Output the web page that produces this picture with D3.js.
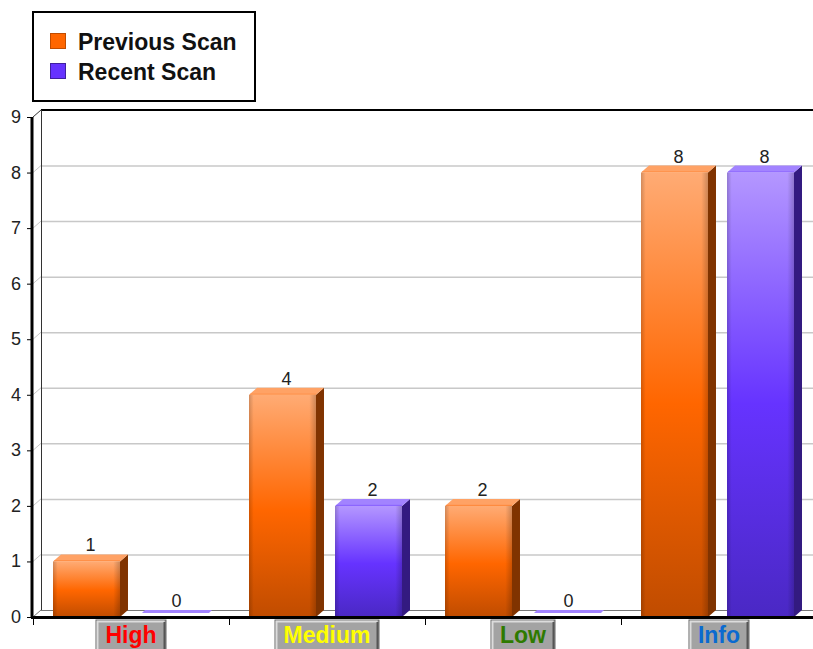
<!DOCTYPE html>
<html>
<head>
<meta charset="utf-8">
<script src="https://cdn.jsdelivr.net/npm/d3@7"></script>
<style>
  body { margin: 0; background: #fff; }
  svg { display: block; }
</style>
</head>
<body>
<div id="chart"></div>
<script>
var categories = ["High", "Medium", "Low", "Info"];
var categoryColors = ["#ff0000", "#ffff00", "#2e7a00", "#0a6ad0"];
var seriesNames = ["Previous Scan", "Recent Scan"];
var previousScan = [1, 4, 2, 8];
var recentScan = [0, 2, 0, 8];
var yTicks = [0, 1, 2, 3, 4, 5, 6, 7, 8, 9];

var width = 813, height = 649;
var depthX = 8, depthY = 7;
var baseY = 617;

var palette = {
    "Previous Scan": {light: "#ffab74", mid: "#ff6600", dark: "#c04c00", top: "#ffa265", side: "#803300", edge: "#c04c00"},
    "Recent Scan": {light: "#b497ff", mid: "#6633ff", dark: "#4a28c4", top: "#a283ff", side: "#331a80", edge: "#4020a0"}
};

var svg = d3.select("#chart").append("svg")
    .attr("width", width)
    .attr("height", height)
    .style("font-family", "'Liberation Sans', Arial, sans-serif");

var defs = svg.append("defs");

seriesNames.forEach(function (s, i) {
    var p = palette[s];
    var g = defs.append("linearGradient")
        .attr("id", "grad" + i)
        .attr("x1", 0).attr("y1", 0).attr("x2", 0).attr("y2", 1);
    g.append("stop").attr("offset", "0%").attr("stop-color", p.light);
    g.append("stop").attr("offset", "52%").attr("stop-color", p.mid);
    g.append("stop").attr("offset", "100%").attr("stop-color", p.dark);
});

// soft shading at the left/right edge of each front face
var edge = defs.append("linearGradient")
    .attr("id", "edgeShade")
    .attr("x1", 0).attr("y1", 0).attr("x2", 1).attr("y2", 0);
edge.append("stop").attr("offset", "0%").attr("stop-color", "#000").attr("stop-opacity", 0.18);
edge.append("stop").attr("offset", "7%").attr("stop-color", "#000").attr("stop-opacity", 0);
edge.append("stop").attr("offset", "90%").attr("stop-color", "#000").attr("stop-opacity", 0);
edge.append("stop").attr("offset", "100%").attr("stop-color", "#000").attr("stop-opacity", 0.2);

var y = d3.scaleLinear()
    .domain([0, 9])
    .range([baseY, 117]);

var x = d3.scaleBand()
    .domain(categories)
    .range([33, 817]);

var xs = d3.scaleBand()
    .domain(seriesNames)
    .range([20, 181])
    .paddingInner(0.128);

var plotLeft = 33, plotRight = width;

// gridlines on the back wall
var grid = svg.append("g");
grid.selectAll("line.grid")
    .data(yTicks.slice(1, -1))
    .enter().append("line")
    .attr("x1", plotLeft + depthX)
    .attr("x2", plotRight)
    .attr("y1", function (d) { return y(d) - depthY + 0.5; })
    .attr("y2", function (d) { return y(d) - depthY + 0.5; })
    .attr("stroke", "#c8c8c8")
    .attr("stroke-width", 1.5);
grid.selectAll("line.diag")
    .data(yTicks.slice(1, -1))
    .enter().append("line")
    .attr("x1", plotLeft)
    .attr("x2", plotLeft + depthX)
    .attr("y1", function (d) { return y(d); })
    .attr("y2", function (d) { return y(d) - depthY; })
    .attr("stroke", "#c8c8c8");

// back wall frame
svg.append("line")
    .attr("x1", plotLeft + depthX).attr("x2", plotRight)
    .attr("y1", y(9) - depthY).attr("y2", y(9) - depthY)
    .attr("stroke", "#000").attr("stroke-width", 2);
svg.append("line")
    .attr("x1", plotLeft + depthX + 0.5).attr("x2", plotLeft + depthX + 0.5)
    .attr("y1", y(9) - depthY).attr("y2", baseY - depthY)
    .attr("stroke", "#333").attr("stroke-width", 1);
svg.append("line")
    .attr("x1", plotLeft).attr("x2", plotLeft + depthX)
    .attr("y1", y(9)).attr("y2", y(9) - depthY)
    .attr("stroke", "#333");
// floor back edge
svg.append("line")
    .attr("x1", plotLeft + depthX).attr("x2", plotRight)
    .attr("y1", baseY - depthY + 0.5).attr("y2", baseY - depthY + 0.5)
    .attr("stroke", "#777");
svg.append("line")
    .attr("x1", plotLeft).attr("x2", plotLeft + depthX)
    .attr("y1", baseY).attr("y2", baseY - depthY)
    .attr("stroke", "#777");

// bars
var rows = [];
categories.forEach(function (c, i) {
    rows.push({cat: c, series: seriesNames[0], si: 0, value: previousScan[i]});
    rows.push({cat: c, series: seriesNames[1], si: 1, value: recentScan[i]});
});

var bw = xs.bandwidth();
var fw = bw - depthX;

var bars = svg.append("g").selectAll("g.bar")
    .data(rows)
    .enter().append("g")
    .attr("class", "bar");

bars.each(function (d) {
    var g = d3.select(this);
    var p = palette[d.series];
    var bx = x(d.cat) + xs(d.series);
    var by = y(d.value);
    if (d.value === 0) {
        g.append("polygon")
            .attr("points", [[bx + 3, baseY - 4], [bx + fw + 3, baseY - 4],
                [bx + fw + 6, baseY - 7], [bx + 6, baseY - 7]].join(" "))
            .attr("fill", p.top);
        return;
    }
    // side face
    g.append("polygon")
        .attr("points", [[bx + fw, by], [bx + fw + depthX, by - depthY],
            [bx + fw + depthX, baseY - depthY], [bx + fw, baseY]].join(" "))
        .attr("fill", p.side);
    // top face
    g.append("polygon")
        .attr("points", [[bx, by], [bx + depthX, by - depthY],
            [bx + fw + depthX, by - depthY], [bx + fw, by]].join(" "))
        .attr("fill", p.top);
    g.append("line")
        .attr("x1", bx + 1).attr("x2", bx + fw)
        .attr("y1", by - 0.5).attr("y2", by - 0.5)
        .attr("stroke", p.mid).attr("stroke-opacity", 0.5);
    // front face
    g.append("rect")
        .attr("x", bx)
        .attr("y", by)
        .attr("width", fw)
        .attr("height", baseY - by)
        .attr("fill", "url(#grad" + d.si + ")");
    g.append("rect")
        .attr("x", bx)
        .attr("y", by)
        .attr("width", fw)
        .attr("height", baseY - by)
        .attr("fill", "url(#edgeShade)");
});

// value labels
svg.append("g").selectAll("text")
    .data(rows)
    .enter().append("text")
    .attr("x", function (d) { return x(d.cat) + xs(d.series) + bw / 2; })
    .attr("y", function (d) { return y(d.value) - 10; })
    .attr("text-anchor", "middle")
    .attr("font-size", 18)
    .attr("fill", "#222")
    .text(function (d) { return d.value; });

// axes
var yAxis = svg.append("g");
yAxis.append("line")
    .attr("x1", plotLeft - 1).attr("x2", plotLeft - 1)
    .attr("y1", y(9)).attr("y2", baseY + 1)
    .attr("stroke", "#000").attr("stroke-width", 3);
yAxis.selectAll("line.tick")
    .data(yTicks)
    .enter().append("line")
    .attr("x1", plotLeft - 6).attr("x2", plotLeft)
    .attr("y1", function (d) { return y(d) + 0.5; })
    .attr("y2", function (d) { return y(d) + 0.5; })
    .attr("stroke", "#000");
yAxis.selectAll("text")
    .data(yTicks)
    .enter().append("text")
    .attr("x", 21)
    .attr("y", function (d) { return y(d) + 6; })
    .attr("text-anchor", "end")
    .attr("font-size", 18)
    .attr("fill", "#222")
    .text(function (d) { return d; });

var xAxis = svg.append("g");
xAxis.append("line")
    .attr("x1", plotLeft - 2).attr("x2", plotRight)
    .attr("y1", baseY + 0.5).attr("y2", baseY + 0.5)
    .attr("stroke", "#000").attr("stroke-width", 3);
xAxis.selectAll("line.tick")
    .data(categories)
    .enter().append("line")
    .attr("x1", function (d) { return x(d) + 0.5; })
    .attr("x2", function (d) { return x(d) + 0.5; })
    .attr("y1", baseY).attr("y2", baseY + 8)
    .attr("stroke", "#000");

// category labels on grey buttons
var labels = xAxis.selectAll("g.lab")
    .data(categories)
    .enter().append("g")
    .attr("class", "lab");

labels.each(function (d, i) {
    var g = d3.select(this);
    var cx = x(d) + x.bandwidth() / 2;
    var t = g.append("text")
        .attr("x", cx)
        .attr("y", 643)
        .attr("text-anchor", "middle")
        .attr("font-size", 23)
        .attr("font-weight", "bold")
        .attr("fill", categoryColors[i])
        .text(d);
    var tw = t.node().getComputedTextLength();
    var bx0 = Math.round(cx - tw / 2 - 9), bx1 = Math.round(cx + tw / 2 + 9);
    var top = 620;
    g.insert("rect", "text")
        .attr("x", bx0).attr("y", top)
        .attr("width", bx1 - bx0).attr("height", 40)
        .attr("fill", "#a3a3a3")
        .attr("stroke", "#666");
    g.insert("path", "text")
        .attr("d", "M" + (bx0 + 1.5) + "," + (height) + "V" + (top + 1.5) + "H" + (bx1 - 1.5))
        .attr("fill", "none").attr("stroke", "#dcdcdc").attr("stroke-width", 2);
    g.insert("path", "text")
        .attr("d", "M" + (bx1 - 1.5) + "," + (top + 2) + "V" + height)
        .attr("fill", "none").attr("stroke", "#555").attr("stroke-width", 2);
});

// legend
var legend = svg.append("g");
legend.append("rect")
    .attr("x", 33).attr("y", 12)
    .attr("width", 222).attr("height", 89)
    .attr("fill", "#fff")
    .attr("stroke", "#000")
    .attr("stroke-width", 2);
var items = legend.selectAll("g.item")
    .data(seriesNames)
    .enter().append("g")
    .attr("class", "item")
    .attr("transform", function (d, i) { return "translate(0," + (i * 30) + ")"; });
items.append("rect")
    .attr("x", 50.5).attr("y", 33.5)
    .attr("width", 15).attr("height", 15)
    .attr("fill", function (d) { return palette[d].mid; })
    .attr("stroke", function (d) { return palette[d].edge; });
items.append("text")
    .attr("x", 78)
    .attr("y", 50)
    .attr("font-size", 23)
    .attr("font-weight", "bold")
    .attr("fill", "#111")
    .text(function (d) { return d; });
</script>
</body>
</html>
